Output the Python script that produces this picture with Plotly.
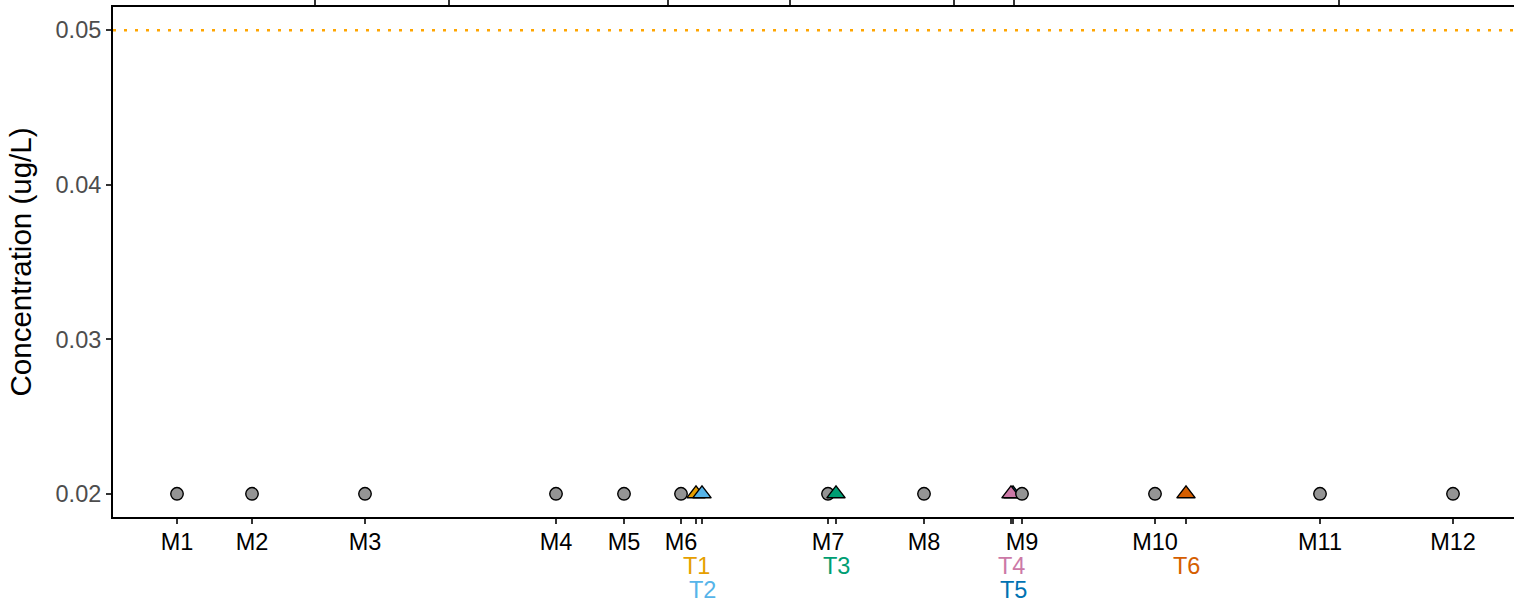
import plotly.graph_objs as go

# monitoring sites (grey circles) and target sites (coloured triangles)
site_names = ["M1", "M2", "M3", "M4", "M5", "M6", "M7", "M8", "M9", "M10", "M11", "M12"]
site_dist = [6.4, 13.9, 25.2, 44.3, 51.1, 56.8, 71.5, 81.1, 90.9, 104.2, 120.7, 134.0]
site_conc = [0.02, 0.02, 0.02, 0.02, 0.02, 0.02, 0.02, 0.02, 0.02, 0.02, 0.02, 0.02]

target_names = ["T1", "T2", "T3", "T4", "T5", "T6"]
target_dist = [58.3, 58.9, 72.3, 89.8, 90.0, 107.3]
target_conc = [0.02, 0.02, 0.02, 0.02, 0.02, 0.02]
target_colors = ["#E69F00", "#56B4E9", "#009E73", "#CC79A7", "#0072B2", "#D55E00"]
target_row = [1, 2, 1, 1, 2, 1]

# ticks of the secondary (top) axis
top_ticks = [20.2, 33.6, 55.5, 67.7, 84.1, 90.1, 122.6]

limit = 0.05

font = "Liberation Sans, Arial, sans-serif"

data = []

# T4/T5 sit behind the M9 circle, the other triangles sit on top
behind = ["T5", "T4"]
for name in behind:
    i = target_names.index(name)
    data.append(go.Scatter(
        x = [target_dist[i]],
        y = [target_conc[i]],
        mode = "markers",
        marker = {"symbol": "triangle-up", "size": 16, "color": target_colors[i],
                  "line": {"color": "black", "width": 1.4}},
        name = name,
        showlegend = False
    ))

data.append(go.Scatter(
    x = site_dist,
    y = site_conc,
    mode = "markers",
    marker = {"symbol": "circle", "size": 12.5, "color": "#949494",
              "line": {"color": "black", "width": 1.4}},
    name = "Monitoring",
    showlegend = False
))

for i, name in enumerate(target_names):
    if name in behind:
        continue
    data.append(go.Scatter(
        x = [target_dist[i]],
        y = [target_conc[i]],
        mode = "markers",
        marker = {"symbol": "triangle-up", "size": 16, "color": target_colors[i],
                  "line": {"color": "black", "width": 1.4}},
        name = name,
        showlegend = False
    ))

# dummy trace so the top axis gets drawn
data.append(go.Scatter(x = [top_ticks[0]], y = [limit], xaxis = "x2", mode = "markers",
                       marker = {"opacity": 0}, hoverinfo = "skip", showlegend = False))

tick_vals = site_dist + target_dist
tick_text = site_names + [""] * len(target_names)

annotations = []
for i, name in enumerate(target_names):
    annotations.append({
        "x": target_dist[i],
        "y": 0,
        "xref": "x",
        "yref": "paper",
        "text": name,
        "showarrow": False,
        "yanchor": "middle",
        "yshift": -24 - 24.5 * target_row[i],
        "font": {"family": font, "size": 23.5, "color": target_colors[i]}
    })

layout = go.Layout(
    width = 1514,
    height = 601,
    margin = {"l": 113, "r": 0, "t": 7, "b": 84},
    paper_bgcolor = "white",
    plot_bgcolor = "white",
    showlegend = False,
    xaxis = {
        "range": [0, 140.1],
        "tickvals": tick_vals,
        "ticktext": tick_text,
        "ticks": "outside",
        "ticklen": 5,
        "tickwidth": 2,
        "tickcolor": "#333333",
        "ticklabelstandoff": -2,
        "showline": True,
        "linecolor": "black",
        "linewidth": 2,
        "showgrid": False,
        "zeroline": False,
        "tickfont": {"family": font, "size": 23.5, "color": "black"},
        "automargin": False
    },
    xaxis2 = {
        "range": [0, 140.1],
        "overlaying": "x",
        "side": "top",
        "tickvals": top_ticks,
        "showticklabels": False,
        "ticks": "outside",
        "ticklen": 6,
        "tickwidth": 2,
        "tickcolor": "#333333",
        "showline": True,
        "linecolor": "black",
        "linewidth": 2,
        "showgrid": False,
        "zeroline": False
    },
    yaxis = {
        "title": {"text": "Concentration (ug/L)", "font": {"family": font, "size": 29.5, "color": "black"},
                  "standoff": 15},
        "range": [0.0185, 0.0515],
        "tickvals": [0.02, 0.03, 0.04, 0.05],
        "ticktext": ["0.02", "0.03", "0.04", "0.05"],
        "ticks": "outside",
        "ticklen": 5,
        "tickwidth": 2,
        "tickcolor": "#333333",
        "showline": True,
        "linecolor": "black",
        "linewidth": 2,
        "showgrid": False,
        "zeroline": False,
        "tickfont": {"family": font, "size": 23.5, "color": "#4D4D4D"},
        "automargin": False
    },
    shapes = [{
        "type": "line",
        "xref": "paper",
        "yref": "y",
        "x0": 0,
        "x1": 1,
        "y0": limit,
        "y1": limit,
        "line": {"color": "#FFA500", "width": 2.5, "dash": "3px,8px"}
    }],
    annotations = annotations
)

fig = go.Figure(data = data, layout = layout)

# the page's default body margin would shift the chart by 8px
fig.write_html("out.html", config = {"displayModeBar": False},
               post_script = "document.body.style.margin = '0';")
